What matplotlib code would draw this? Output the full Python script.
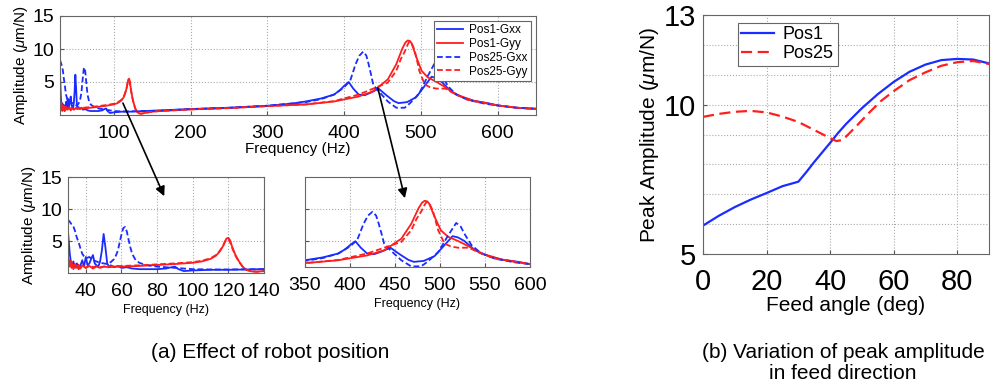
import matplotlib
matplotlib.use("Agg")
import matplotlib.pyplot as plt
from matplotlib.patches import ConnectionPatch

plt.rcParams['font.family'] = ['Liberation Sans', 'DejaVu Sans']
plt.rcParams['mathtext.fontset'] = 'custom'
plt.rcParams['mathtext.it'] = 'Liberation Sans:italic'

# ---- data: frequency response curves ----
pos1_gxx_f = [30, 31, 32, 33, 34, 35, 36, 37, 38, 39, 40, 41, 42, 43, 44, 45, 46, 47, 48, 49,
              50, 51, 52, 53, 54, 56, 58, 60, 63, 66, 70, 75, 80, 85, 88, 90, 92, 95, 100, 110,
              120, 130, 140, 160, 200, 250, 300, 330, 350, 370, 387, 395, 400, 406, 412, 419,
              427, 435, 445, 455, 465, 471, 482, 494, 505, 514, 520, 527, 539, 554, 569, 587,
              600, 625, 650]
pos1_gxx_a = [6.5, 3.0, 1.0, 1.8, 0.8, 1.5, 0.6, 1.2, 2.0, 1.0, 2.5, 1.2, 1.5, 2.2, 2.8, 1.5,
              1.2, 1.0, 1.8, 3.5, 6.1, 4.0, 1.5, 1.0, 1.2, 0.9, 1.1, 0.8, 0.9, 0.7, 0.6, 0.6,
              0.6, 0.7, 0.9, 1.0, 0.6, 0.3, 0.4, 0.5, 0.5, 0.55, 0.6, 0.7, 0.9, 1.1, 1.4, 1.7,
              2.05, 2.5, 3.1, 3.8, 4.4, 5.0, 4.0, 3.1, 3.0, 3.4, 4.0, 3.0, 2.1, 1.8, 1.95, 2.7,
              4.4, 5.8, 5.6, 5.05, 3.6, 2.7, 2.15, 1.8, 1.45, 1.1, 0.95]

pos25_gxx_f = [30, 31, 32, 33, 34, 35, 36, 37, 38, 39, 40, 42, 44, 46, 48, 50, 52, 54, 56, 57,
               58, 59, 60, 61, 62, 63, 64, 65, 66, 67, 68, 70, 72, 75, 80, 85, 90, 95, 100, 110,
               120, 140, 160, 200, 250, 300, 350, 370, 387, 400, 408, 415, 420, 425, 429, 432,
               435, 438, 445, 457, 468, 479, 486, 498, 509, 518, 523, 527, 535, 546, 561, 584,
               600, 625, 650]
pos25_gxx_a = [8.3, 8.0, 7.6, 7.3, 6.5, 5.5, 4.8, 3.8, 3.0, 2.6, 2.3, 2.5, 2.0, 1.8, 1.6, 1.5,
               1.4, 1.7, 2.2, 2.8, 3.5, 4.8, 6.0, 7.0, 7.2, 6.5, 5.2, 4.0, 3.0, 2.5, 2.0, 1.6,
               1.4, 1.2, 1.0, 0.9, 0.8, 0.7, 0.6, 0.55, 0.55, 0.6, 0.65, 0.9, 1.1, 1.4, 1.95,
               2.4, 3.1, 4.2, 5.2, 7.7, 9.0, 9.6, 9.0, 7.7, 6.2, 4.6, 3.6, 2.05, 1.1, 1.1, 1.8,
               3.3, 5.9, 7.85, 7.3, 6.2, 4.4, 3.1, 2.3, 1.7, 1.45, 1.1, 0.95]

pos1_gyy_f = [30, 31, 32, 33, 34, 35, 36, 37, 38, 40, 42, 44, 46, 48, 50, 53, 56, 60, 65, 70,
              80, 90, 100, 105, 110, 113, 115, 117, 118, 119, 120, 121, 122, 124, 126, 128, 130,
              133, 136, 140, 150, 160, 200, 250, 300, 350, 387, 419, 438, 457, 468, 476, 480,
              483, 486, 488, 494, 501, 509, 520, 532, 546, 569, 600, 625, 650]
pos1_gyy_a = [2.8, 1.0, 1.8, 0.6, 1.4, 0.8, 1.3, 0.7, 1.2, 0.8, 1.1, 0.7, 1.0, 0.8, 1.0, 0.9,
              1.0, 1.0, 1.05, 1.1, 1.25, 1.4, 1.6, 1.8, 2.2, 2.7, 3.3, 4.2, 4.9, 5.4, 5.5, 5.1,
              4.2, 2.8, 1.8, 1.0, 0.5, 0.25, 0.2, 0.3, 0.5, 0.6, 0.85, 1.05, 1.35, 1.6, 2.05,
              2.8, 3.6, 5.4, 7.7, 10.1, 11.0, 11.3, 11.2, 10.85, 8.8, 6.7, 5.7, 5.05, 4.2, 3.1,
              2.15, 1.45, 1.1, 0.9]

pos25_gyy_f = [30, 31, 32, 33, 34, 35, 36, 38, 40, 42, 44, 46, 48, 50, 53, 56, 60, 65, 70, 80,
               90, 100, 105, 110, 113, 115, 117, 118, 119, 120, 121, 122, 124, 126, 128, 130,
               133, 136, 140, 150, 160, 200, 250, 300, 350, 387, 419, 438, 457, 468, 474, 479,
               483, 485, 488, 492, 498, 505, 512, 520, 532, 542, 561, 600, 625, 650]
pos25_gyy_a = [1.5, 2.0, 0.8, 1.5, 0.9, 1.3, 0.7, 1.1, 0.8, 1.2, 0.9, 1.1, 0.9, 1.0, 1.1, 1.0,
               1.1, 1.15, 1.2, 1.35, 1.5, 1.7, 1.9, 2.3, 2.8, 3.4, 4.2, 4.8, 5.2, 5.3, 4.8, 4.0,
               2.7, 1.7, 1.0, 0.5, 0.25, 0.2, 0.3, 0.5, 0.6, 0.85, 1.05, 1.35, 1.6, 2.1, 3.1,
               4.0, 4.9, 6.7, 8.5, 9.6, 10.7, 11.1, 10.9, 9.8, 6.7, 4.64, 4.2, 4.0, 4.0, 3.34,
               2.3, 1.45, 1.1, 0.9]

# ---- data: peak amplitude vs feed angle ----
angle_pos1 = [0, 5, 10, 15, 20, 25, 30, 32.5, 35, 37.5, 40, 42.5, 45, 50, 55, 60, 65, 70, 75,
              80, 85, 90]
peak_pos1 = [5.95, 6.28, 6.57, 6.82, 7.04, 7.27, 7.42, 7.74, 8.08, 8.4, 8.72, 9.05, 9.35,
             9.88, 10.35, 10.76, 11.1, 11.34, 11.49, 11.53, 11.51, 11.38]
angle_pos25 = [0, 5, 10, 15, 20, 25, 30, 35, 40, 42, 44, 48, 52, 56, 60, 65, 70, 75, 80, 85, 90]
peak_pos25 = [9.59, 9.69, 9.76, 9.79, 9.74, 9.6, 9.42, 9.15, 8.88, 8.78, 8.82, 9.25, 9.7,
              10.12, 10.45, 10.82, 11.08, 11.3, 11.42, 11.46, 11.36]

BLUE = '#1a2cff'
RED = '#ff1e1e'
DASH = (0, (3.2, 1.6))

fig = plt.figure(figsize=(9.91, 3.85), dpi=100)
W, H = 991.0, 385.0


def box(l, t, r, b):
    return [l / W, 1 - b / H, (r - l) / W, (b - t) / H]


ax_top = fig.add_axes(box(60, 16, 536, 115))
ax_ll = fig.add_axes(box(68, 177, 264, 273))
ax_lr = fig.add_axes(box(305, 177, 530, 267))
ax_r = fig.add_axes(box(703, 15, 989, 254))


def draw_frf(ax):
    ax.plot(pos1_gxx_f, pos1_gxx_a, color=BLUE, lw=1.3, label='Pos1-Gxx')
    ax.plot(pos1_gyy_f, pos1_gyy_a, color=RED, lw=1.3, label='Pos1-Gyy')
    ax.plot(pos25_gxx_f, pos25_gxx_a, color=BLUE, lw=1.3, ls=DASH, label='Pos25-Gxx')
    ax.plot(pos25_gyy_f, pos25_gyy_a, color=RED, lw=1.3, ls=DASH, label='Pos25-Gyy')


def style(ax, tick_size, xpad, ypad):
    ax.grid(True, color='#aaaaaa', ls=':', lw=0.8)
    ax.tick_params(direction='in', labelsize=tick_size, length=3, color='#555555')
    ax.tick_params(axis='x', pad=xpad)
    ax.tick_params(axis='y', pad=ypad)
    for s in ax.spines.values():
        s.set_color('#666666')
        s.set_linewidth(0.8)


for ax in (ax_top, ax_ll, ax_lr):
    draw_frf(ax)
    style(ax, 14, 7, 4)

ax_top.set_xlim(30, 650)
ax_top.set_ylim(0, 15)
ax_top.set_xticks([100, 200, 300, 400, 500, 600])
ax_top.set_yticks([5, 10, 15])
ax_top.set_xlabel('Frequency (Hz)', fontsize=11, labelpad=0)
ax_top.set_ylabel(r'Amplitude ($\mu$m/N)', fontsize=11, labelpad=2)
leg = ax_top.legend(loc='upper right', fontsize=8.5, handlelength=2.2, borderpad=0.3,
                    labelspacing=0.15, handletextpad=0.5, fancybox=False, framealpha=1,
                    borderaxespad=0.4)
leg.get_frame().set_edgecolor('#666666')
leg.get_frame().set_linewidth(0.8)

ax_ll.set_xlim(30, 140)
ax_ll.set_ylim(0, 15)
ax_ll.set_xticks([40, 60, 80, 100, 120, 140])
ax_ll.set_yticks([5, 10, 15])
ax_ll.set_xlabel('Frequency (Hz)', fontsize=9, labelpad=3)
ax_ll.set_ylabel(r'Amplitude ($\mu$m/N)', fontsize=11, labelpad=2)

ax_lr.set_xlim(350, 600)
ax_lr.set_ylim(1, 15)
ax_lr.set_xticks([350, 400, 450, 500, 550, 600])
ax_lr.set_yticks([5, 10])
ax_lr.set_yticklabels([])
ax_lr.set_xlabel('Frequency (Hz)', fontsize=9, labelpad=3)

# zoom arrows
for src, dst, ax_dst in (((112, 1.8), (84, 12.0), ax_ll), ((444, 4.1), (461, 11.7), ax_lr)):
    con = ConnectionPatch(xyA=src, coordsA=ax_top.transData, xyB=dst, coordsB=ax_dst.transData,
                          arrowstyle='-|>', mutation_scale=14, color='black', lw=1.2)
    fig.add_artist(con)

# right panel
ax_r.plot(angle_pos1, peak_pos1, color=BLUE, lw=1.6, label='Pos1')
ax_r.plot(angle_pos25, peak_pos25, color=RED, lw=1.6, ls=(0, (5, 2.5)), label='Pos25')
style(ax_r, 21, 10, 5)
ax_r.set_xlim(0, 90)
ax_r.set_ylim(5, 13)
ax_r.set_xticks([0, 20, 40, 60, 80])
ax_r.set_yticks([5, 10, 13])
ax_r.set_yticks([6, 7, 8, 9, 11, 12], minor=True)
ax_r.tick_params(which='minor', direction='in', length=0)
ax_r.grid(True, which='minor', axis='y', color='#aaaaaa', ls=':', lw=0.8)
ax_r.set_xlabel('Feed angle (deg)', fontsize=15, labelpad=0)
ax_r.set_ylabel(r'Peak Amplitude ($\mu$m/N)', fontsize=15, labelpad=2)
leg2 = ax_r.legend(loc='upper left', fontsize=13, handlelength=1.8, borderpad=0.2,
                   labelspacing=0.1, handletextpad=0.5, fancybox=False, framealpha=1,
                   bbox_to_anchor=(0.09, 1.005))
leg2.get_frame().set_edgecolor('#666666')
leg2.get_frame().set_linewidth(0.8)

fig.text(270 / W, 1 - 352 / H, '(a) Effect of robot position', ha='center', va='center',
         fontsize=15)
fig.text(843 / W, 1 - 363 / H, '(b) Variation of peak amplitude\nin feed direction',
         ha='center', va='center', fontsize=15, linespacing=1.1)

fig.savefig('out.png', dpi=100)
